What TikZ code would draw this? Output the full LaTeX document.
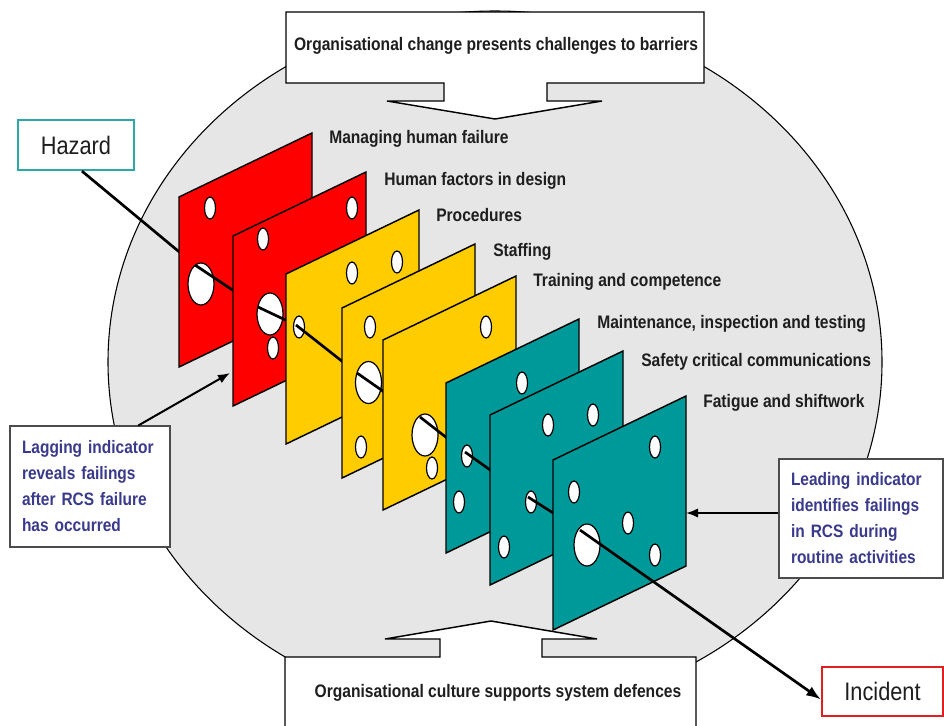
\documentclass[tikz,border=0pt]{standalone}
\usepackage{fontspec}
\setmainfont{Liberation Sans}[FakeStretch=0.86]
\usetikzlibrary{arrows.meta,calc}
\definecolor{bggray}{HTML}{E6E6E6}
\definecolor{pred}{HTML}{FF0000}
\definecolor{pyel}{HTML}{FFCC00}
\definecolor{pteal}{HTML}{009999}
\definecolor{hzteal}{HTML}{2CA8A8}
\definecolor{incred}{HTML}{E02020}
\definecolor{indblue}{HTML}{3A3A8C}
\definecolor{lbltext}{HTML}{1E1E1E}
\newcommand{\plateat}[3]{\filldraw[fill=#3,draw=black,line width=1.1pt,line join=miter] (#1,#2) -- ++(133,-64) -- ++(0,170) -- ++(-133,64) -- cycle;}
\newcommand{\holeat}[2]{\filldraw[fill=white,draw=black,line width=0.9pt] (#1,#2) ellipse [x radius=5.5, y radius=11];}
\newcommand{\bigholeat}[2]{\filldraw[fill=white,draw=black,line width=0.9pt] (#1,#2) ellipse [x radius=13, y radius=21];}
\tikzset{
  callout/.style={fill=white,draw=black,line width=1.1pt,line join=miter},
  lbl/.style={font=\bfseries\fontsize{13.6pt}{16pt}\selectfont,text=lbltext,inner sep=0pt,text height=0.72em,text depth=0.21em},
  endbox/.style={fill=white,line width=1.6pt,inner sep=0pt,font=\fontsize{19pt}{22pt}\selectfont,text=lbltext},
  indbox/.style={fill=white,draw=gray!60!black,line width=0.8pt,align=left,inner xsep=9pt,inner ysep=0pt,text=indblue,font=\bfseries\fontsize{13.5pt}{19.5pt}\selectfont},
  hazline/.style={line width=2pt,draw=black},
  indarrow/.style={line width=1.5pt,draw=black,-{Latex[length=9pt,width=7pt]}}
}
\begin{document}
\begin{tikzpicture}[x=0.75pt,y=-0.75pt]
\useasboundingbox (0,0) rectangle (944,725);
\clip (0,0) rectangle (944,725);
\fill[white] (0,0) rectangle (944,725);
% background ellipse
\filldraw[fill=bggray,draw=black,line width=0.8pt] (495,362) ellipse [x radius=387, y radius=351];
% top callout
\filldraw[callout] (286,12) -- (704,12) -- (704,83) -- (547,83) -- (547,101) -- (602,101) -- (495,119) -- (387,101) -- (444,101) -- (444,83) -- (286,83) -- cycle;
\node[lbl] (topt) at (496,47) {Organisational change presents challenges to barriers};
% bottom callout
\filldraw[callout] (285,740) -- (285,657) -- (440,657) -- (440,639) -- (385,639) -- (491,621) -- (597,639) -- (542,639) -- (542,657) -- (696,657) -- (696,740) -- cycle;
\node[lbl] (bott) at (498,694) {Organisational culture supports system defences};
% end boxes
\node[endbox,draw=hzteal,minimum width=87pt,minimum height=37.5pt] (hazard) at (76,145) {Hazard};
\node[endbox,draw=incred,minimum width=90.75pt,minimum height=36.75pt] (incident) at (882.5,691.5) {Incident};
% path waypoints through the holes
\coordinate (E1) at (195,265);
\coordinate (E2) at (258,307);
\coordinate (E3) at (296,325);
\coordinate (E4) at (357,373);
\coordinate (E5) at (420,417);
\coordinate (E6) at (465,452);
\coordinate (E7) at (528,497);
\coordinate (E8) at (580,530);
\draw[hazline] ($(hazard.south west)!0.55!(hazard.south east)$) -- (E1);
% plate 1
\plateat{179}{197}{pred}
\holeat{210}{208}\bigholeat{201}{284}
\draw[hazline] (E1) -- (E2);
% plate 2
\plateat{233}{236}{pred}
\holeat{263}{239}\holeat{352}{208}\bigholeat{270}{314}\holeat{273}{348}
\draw[hazline] (E2) -- (E3);
% plate 3
\plateat{286}{274}{pyel}
\holeat{299}{327}\holeat{352}{273}\holeat{397}{262}
\draw[hazline] (E3) -- (E4);
% plate 4
\plateat{342}{308}{pyel}
\holeat{370}{327}\bigholeat{368.5}{382.5}\holeat{361}{447}
\draw[hazline] (E4) -- (E5);
% plate 5
\plateat{383}{340}{pyel}
\holeat{486}{327}\bigholeat{425}{435}\holeat{432}{468}
\draw[hazline] (E5) -- (E6);
% plate 6
\plateat{446}{383}{pteal}
\holeat{522}{383}\holeat{467}{456}\holeat{459}{502}
\draw[hazline] (E6) -- (E7);
% plate 7
\plateat{490}{415}{pteal}
\holeat{548}{425}\holeat{593}{415}\holeat{531}{502}\holeat{504}{547}
\draw[hazline] (E7) -- (E8);
% plate 8
\plateat{553}{460}{pteal}
\holeat{655}{447}\holeat{574}{492}\holeat{628}{523}\bigholeat{587}{545}\holeat{655}{555}
\draw[hazline,-{Latex[length=11pt,width=8pt]}] (E8) -- ($(incident.west)+(0,8)$);
% plate labels
\node[lbl,anchor=west] (l1) at (329,140) {Managing human failure};
\node[lbl,anchor=west] (l2) at (384,182) {Human factors in design};
\node[lbl,anchor=west] (l3) at (436,218) {Procedures};
\node[lbl,anchor=west] (l4) at (493,253) {Staffing};
\node[lbl,anchor=west] (l5) at (533,283) {Training and competence};
\node[lbl,anchor=west] (l6) at (597,325) {Maintenance, inspection and testing};
\node[lbl,anchor=west] (l7) at (641,363) {Safety critical communications};
\node[lbl,anchor=west] (l8) at (703,404) {Fatigue and shiftwork};
% indicator boxes
\node[indbox,text width=102pt,minimum height=90.75pt] (lag) at (90,486.5) {Lagging indicator\\reveals failings\\after RCS failure\\has occurred};
\node[indbox,text width=105pt,minimum height=89.25pt] (lead) at (861,518.5) {Leading indicator\\identifies failings\\in RCS during\\routine activities};
\coordinate (lagtip) at (230,373);
\coordinate (leadtip) at (686,513);
\draw[indarrow] ($(lag.north west)!0.8!(lag.north east)$) -- (lagtip);
\draw[indarrow] (lead.west |- leadtip) -- (leadtip);
\end{tikzpicture}
\end{document}
